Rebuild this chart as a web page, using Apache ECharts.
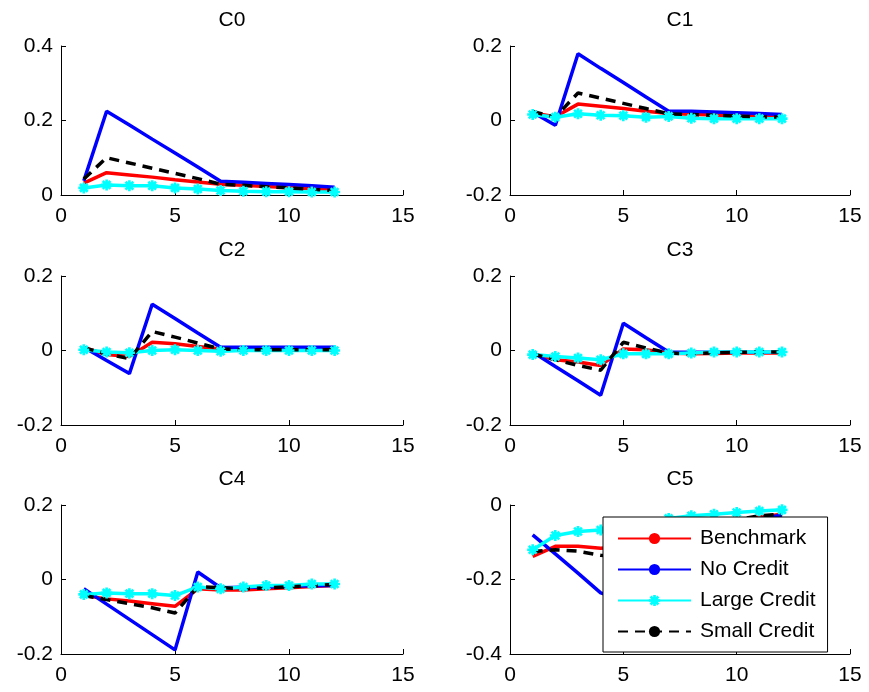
<!DOCTYPE html>
<html>
<head>
<meta charset="utf-8">
<script src="https://cdn.jsdelivr.net/npm/echarts@6/dist/echarts.min.js"></script>
<style>
html,body{margin:0;padding:0;background:#fff;}
#chart{width:869px;height:692px;}
</style>
</head>
<body>
<div id="chart"></div>
<script>
const periods = [1,2,3,4,5,6,7,8,9,10,11,12];
const panelTitles = ['C0','C1','C2','C3','C4','C5'];
const xTicks = [0,5,10,15];
const yMins = [0,-0.2,-0.2,-0.2,-0.2,-0.4];
const yMaxs = [0.4,0.2,0.2,0.2,0.2,0];
const seriesNames = ['Benchmark','No Credit','Large Credit','Small Credit'];

const benchmark = [
  [0.032,0.060,0.054,0.048,0.041,0.035,0.029,0.026,0.023,0.020,0.017,0.014],
  [0.020,0.010,0.044,0.038,0.032,0.025,0.019,0.017,0.015,0.013,0.012,0.010],
  [0.008,-0.011,-0.016,0.022,0.018,0.011,0.004,0.002,0.002,0.002,0.002,0.002],
  [-0.009,-0.025,-0.031,-0.040,0.004,0.002,-0.007,-0.009,-0.008,-0.007,-0.007,-0.007],
  [-0.043,-0.052,-0.058,-0.065,-0.072,-0.025,-0.028,-0.028,-0.025,-0.022,-0.019,-0.016],
  [-0.138,-0.111,-0.111,-0.116,-0.112,-0.100,-0.085,-0.070,-0.055,-0.042,-0.032,-0.025]
];
const noCredit = [
  [0.038,0.225,0.188,0.150,0.113,0.075,0.037,0.034,0.031,0.028,0.025,0.021],
  [0.022,-0.013,0.179,0.140,0.102,0.063,0.025,0.025,0.023,0.021,0.019,0.016],
  [0.009,-0.027,-0.062,0.124,0.086,0.047,0.009,0.009,0.009,0.009,0.009,0.009],
  [-0.004,-0.043,-0.081,-0.120,0.073,0.034,-0.004,-0.005,-0.005,-0.005,-0.005,-0.005],
  [-0.025,-0.066,-0.107,-0.148,-0.189,0.020,-0.022,-0.021,-0.020,-0.018,-0.017,-0.016],
  [-0.080,-0.131,-0.183,-0.236,-0.255,-0.200,-0.150,-0.110,-0.080,-0.055,-0.038,-0.027]
];
const largeCredit = [
  [0.019,0.027,0.025,0.025,0.019,0.016,0.012,0.010,0.009,0.009,0.008,0.008],
  [0.016,0.009,0.018,0.014,0.013,0.009,0.011,0.006,0.005,0.005,0.005,0.005],
  [0.002,-0.004,-0.006,0.000,0.002,0.000,-0.002,0.000,0.000,0.000,0.000,0.000],
  [-0.011,-0.016,-0.020,-0.025,-0.009,-0.009,-0.009,-0.007,-0.004,-0.004,-0.004,-0.004],
  [-0.040,-0.036,-0.038,-0.038,-0.043,-0.020,-0.025,-0.020,-0.016,-0.016,-0.012,-0.012],
  [-0.120,-0.082,-0.071,-0.067,-0.058,-0.047,-0.036,-0.029,-0.025,-0.020,-0.016,-0.013]
];
const smallCredit = [
  [0.043,0.100,0.086,0.072,0.058,0.044,0.029,0.026,0.022,0.019,0.015,0.012],
  [0.024,0.009,0.074,0.060,0.046,0.032,0.018,0.016,0.014,0.012,0.010,0.009],
  [0.007,-0.009,-0.022,0.051,0.036,0.020,0.004,0.002,0.002,0.002,0.002,0.002],
  [-0.009,-0.025,-0.040,-0.053,0.022,0.007,-0.007,-0.009,-0.006,-0.005,-0.004,-0.004],
  [-0.043,-0.054,-0.065,-0.076,-0.090,-0.019,-0.022,-0.025,-0.022,-0.020,-0.017,-0.013],
  [-0.125,-0.120,-0.124,-0.135,-0.140,-0.120,-0.097,-0.075,-0.055,-0.040,-0.029,-0.025]
];

const FONT = "'Liberation Sans', Arial, sans-serif";
const asterisk = 'path://M-1.2,-5 L1.2,-5 L1.2,5 L-1.2,5 Z M-5,-1.2 L5,-1.2 L5,1.2 L-5,1.2 Z ' +
  'M-2.68,-4.38 L4.38,2.68 L2.68,4.38 L-4.38,-2.68 Z M2.68,-4.38 L4.38,-2.68 L-2.68,4.38 L-4.38,2.68 Z';

const gridLefts = [61, 510];
const gridWidths = [342, 340];
const gridTops = [46, 276, 505];
const gridH = 149;

const grids = [], xAxes = [], yAxes = [], titles = [], series = [];
for (let i = 0; i < 6; i++) {
  const col = i % 2, row = Math.floor(i / 2);
  grids.push({left: gridLefts[col], top: gridTops[row], width: gridWidths[col], height: gridH});
  const axisCommon = {
    axisLine: {show: true, onZero: false, lineStyle: {color: '#000', width: 1}},
    axisTick: {show: true, inside: true, length: 5, lineStyle: {color: '#000', width: 1}},
    splitLine: {show: false},
    axisLabel: {color: '#000', fontSize: 21, fontFamily: FONT}
  };
  xAxes.push(Object.assign({gridIndex: i, type: 'value', min: xTicks[0], max: xTicks[xTicks.length-1], interval: 5}, axisCommon,
    {axisLabel: {color: '#000', fontSize: 21, fontFamily: FONT, margin: 11}}));
  yAxes.push(Object.assign({gridIndex: i, type: 'value', min: yMins[i], max: yMaxs[i], interval: 0.2}, axisCommon,
    {axisLabel: {color: '#000', fontSize: 21, fontFamily: FONT, margin: 8}}));
  titles.push({
    text: panelTitles[i],
    left: gridLefts[col] + gridWidths[col] / 2,
    top: gridTops[row] - 36,
    textAlign: 'center',
    padding: 0,
    textStyle: {fontSize: 21, fontWeight: 'normal', color: '#000', fontFamily: FONT}
  });
  const toPts = arr => periods.map((p, k) => [p, arr[k]]);
  series.push({
    name: seriesNames[0], type: 'line', xAxisIndex: i, yAxisIndex: i, data: toPts(benchmark[i]),
    symbol: 'none', lineStyle: {color: '#ff0000', width: 3.5}, itemStyle: {color: '#ff0000'}
  });
  series.push({
    name: seriesNames[1], type: 'line', xAxisIndex: i, yAxisIndex: i, data: toPts(noCredit[i]),
    symbol: 'none', lineStyle: {color: '#0000ff', width: 3.5}, itemStyle: {color: '#0000ff'}
  });
  series.push({
    name: seriesNames[2], type: 'line', xAxisIndex: i, yAxisIndex: i, data: toPts(largeCredit[i]),
    symbol: asterisk, symbolSize: 11, symbolKeepAspect: true, showAllSymbol: true,
    lineStyle: {color: '#00ffff', width: 3.5}, itemStyle: {color: '#00ffff'}
  });
  series.push({
    name: seriesNames[3], type: 'line', xAxisIndex: i, yAxisIndex: i, data: toPts(smallCredit[i]),
    symbol: 'none', lineStyle: {color: '#000000', width: 3.5, type: [10, 7]}, itemStyle: {color: '#000000'}
  });
}

const chart = echarts.init(document.getElementById('chart'), null, {renderer: 'canvas'});
chart.setOption({
  animation: false,
  backgroundColor: '#fff',
  title: titles,
  grid: grids,
  xAxis: xAxes,
  yAxis: yAxes,
  legend: {
    data: seriesNames,
    orient: 'vertical',
    left: 603, top: 517,
    padding: [11, 12, 10, 14],
    itemGap: 10,
    itemWidth: 73,
    itemHeight: 14,
    selectedMode: false,
    backgroundColor: '#fff',
    borderColor: '#000',
    borderWidth: 1,
    borderRadius: 0,
    textStyle: {fontSize: 21, color: '#000', fontFamily: FONT, padding: [0, 0, 0, 4]}
  },
  series: series
});
</script>
</body>
</html>
